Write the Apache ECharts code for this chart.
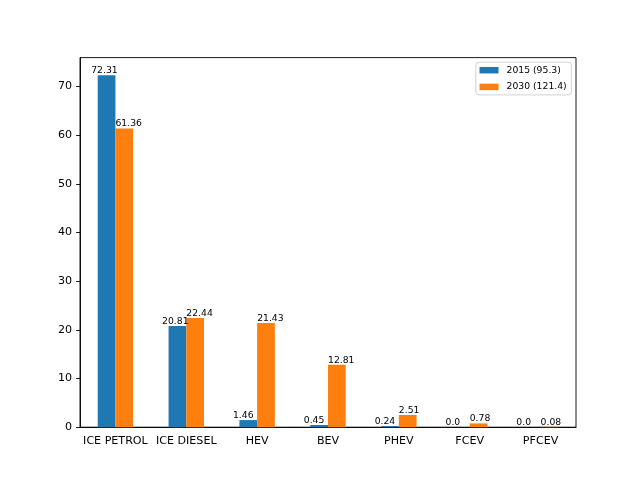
<!DOCTYPE html>
<html>
<head>
<meta charset="utf-8">
<script src="https://cdn.jsdelivr.net/npm/echarts@6/dist/echarts.min.js"></script>
<style>html,body{margin:0;padding:0;background:#fff}#c{width:640px;height:480px}</style>
</head>
<body>
<div id="c"></div>
<script>
var categories = ['ICE PETROL', 'ICE DIESEL', 'HEV', 'BEV', 'PHEV', 'FCEV', 'PFCEV'];
var values2015 = [72.31, 20.81, 1.46, 0.45, 0.24, 0.0, 0.0];
var values2030 = [61.36, 22.44, 21.43, 12.81, 2.51, 0.78, 0.08];
var seriesNames = ['2015 (95.3)', '2030 (121.4)'];
var yTicks = [0, 10, 20, 30, 40, 50, 60, 70];

var FONT = 'DejaVu Sans';
var FS = 11.1;
var FS_SMALL = 9.26;
function fmt(p) {
  var v = p.value;
  return (v === 0) ? '0.0' : String(v);
}
var chart = echarts.init(document.getElementById('c'), null, {renderer: 'canvas'});
var maxVal = Math.max.apply(null, values2015.concat(values2030));
chart.setOption({
  animation: false,
  backgroundColor: '#ffffff',
  textStyle: {fontFamily: FONT},
  grid: {left: 80, right: 64, top: 57.6, bottom: 52.8, show: true, borderColor: '#000', borderWidth: 0.9, backgroundColor: 'transparent'},
  legend: {
    orient: 'vertical', right: 68.6, top: 62.2,
    data: seriesNames,
    icon: 'rect', itemWidth: 19, itemHeight: 6.5, itemGap: 4.7,
    padding: [2, 4.7, 2, 3.7],
    borderColor: '#cccccc', borderWidth: 0.9, borderRadius: 3,
    backgroundColor: 'rgba(255,255,255,0.8)',
    textStyle: {fontFamily: FONT, fontSize: FS_SMALL, color: '#000', lineHeight: 12, padding: [0, 0, 0, 3]}
  },
  xAxis: {
    type: 'category', data: categories, boundaryGap: true,
    axisLine: {lineStyle: {color: '#000', width: 0.9}},
    axisTick: {alignWithLabel: true, length: 3.9, lineStyle: {color: '#000', width: 0.9}},
    axisLabel: {fontFamily: FONT, fontSize: FS, color: '#000', margin: 8, interval: 0},
    splitLine: {show: false}
  },
  yAxis: {
    type: 'value', min: 0, max: maxVal * 1.05,
    axisLine: {show: true, lineStyle: {color: '#000', width: 0.9}},
    axisTick: {show: true, length: 3.9, lineStyle: {color: '#000', width: 0.9}, customValues: yTicks},
    axisLabel: {fontFamily: FONT, fontSize: FS, color: '#000', margin: 8, customValues: yTicks},
    splitLine: {show: false}
  },
  series: [
    {
      name: seriesNames[0], type: 'bar', data: values2015,
      barWidth: '25%', barGap: '0%',
      itemStyle: {color: '#1f77b4'},
      label: {show: true, position: [-6.5, 0], align: 'left', verticalAlign: 'bottom', formatter: fmt, fontFamily: FONT, fontSize: FS_SMALL, color: '#000'}
    },
    {
      name: seriesNames[1], type: 'bar', data: values2030,
      barWidth: '25%', barGap: '0%',
      itemStyle: {color: '#ff7f0e'},
      label: {show: true, position: [0, 0], align: 'left', verticalAlign: 'bottom', formatter: fmt, fontFamily: FONT, fontSize: FS_SMALL, color: '#000'}
    }
  ]
});
</script>
</body>
</html>
